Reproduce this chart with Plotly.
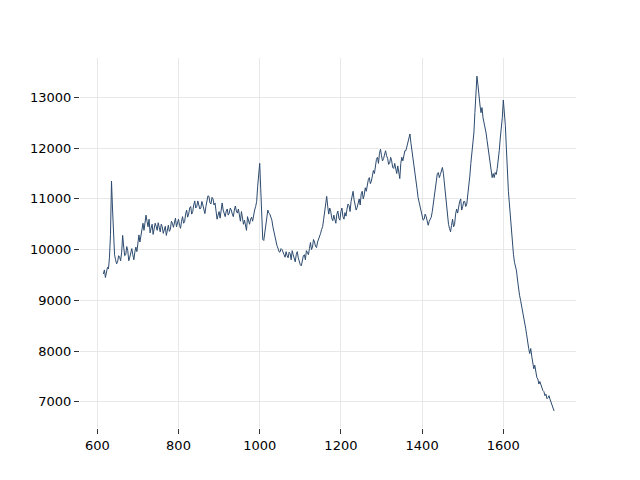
import plotly.graph_objects as go

x_start = 615
x_step = 2.5
intensity = [
    9520, 9600, 9450, 9560, 9650, 9620, 9850, 10300, 11350, 10800,
    10100, 9900, 9800, 9720, 9760, 9880, 9850, 9780, 9950, 10280,
    10050, 9880, 9900, 10060, 9980, 9780, 9850, 9930, 10020, 9900,
    9800, 9950, 10050, 9960, 10200, 10290, 10150, 10300, 10420, 10520,
    10380, 10560, 10680, 10560, 10450, 10600, 10330, 10420, 10500, 10300,
    10380, 10520, 10460, 10380, 10530, 10440, 10350, 10500, 10450, 10320,
    10380, 10460, 10280, 10380, 10480, 10360, 10400, 10560, 10520, 10440,
    10570, 10620, 10450, 10520, 10600, 10480, 10420, 10560, 10650, 10520,
    10550, 10700, 10780, 10640, 10700, 10820, 10850, 10700, 10750, 10880,
    10960, 10820, 10850, 10960, 10900, 10800, 10820, 10950, 10880, 10780,
    10710, 10850, 10950, 11060, 11050, 10920, 10900, 11030, 11000, 10880,
    10920, 10780, 10600, 10680, 10750, 10620, 10850, 10920, 10780, 10700,
    10650, 10760, 10800, 10680, 10720, 10820, 10780, 10700, 10650, 10780,
    10860, 10760, 10720, 10800, 10620, 10560, 10750, 10620, 10500, 10580,
    10420, 10380, 10650, 10560, 10500, 10600, 10640, 10560, 10700, 10780,
    10850, 10950, 11250, 11600, 11700, 11200, 10500, 10200, 10180, 10350,
    10450, 10600, 10780, 10720, 10700, 10640, 10580, 10450, 10350, 10260,
    10200, 10080, 10030, 9960, 9950, 10020, 10000, 9920, 9900, 9850,
    9960, 9880, 9840, 9950, 9920, 9800, 9980, 9900, 9820, 9760,
    9900, 9960, 9840, 9760, 9700, 9680, 9800, 9880, 9900, 9800,
    9980, 9920, 9900, 10020, 10140, 10000, 10050, 10200, 10150, 10060,
    10040, 10150, 10200, 10280, 10320, 10400, 10450, 10600, 10750, 11000,
    11050, 10850, 10700, 10820, 10750, 10620, 10570, 10680, 10600, 10520,
    10700, 10760, 10620, 10580, 10750, 10820, 10650, 10600, 10730, 10660,
    10800, 10900, 10870, 10750, 10950, 11100, 11150, 10980, 10900, 10780,
    10830, 10950, 11000, 10880, 11100, 11150, 11000, 11080, 11220, 11150,
    11300, 11380, 11420, 11300, 11350, 11480, 11560, 11500, 11650, 11780,
    11820, 11700, 11900, 11980, 11850, 11750, 11795, 11900, 11950, 11850,
    11800, 11680, 11700, 11820, 11750, 11620, 11600, 11700, 11560, 11500,
    11650, 11550, 11400, 11700, 11820, 11750, 11880, 11950, 11950, 12050,
    12100, 12250, 12280, 12100, 11950, 11850, 11750, 11600, 11400, 11200,
    11030, 10950, 10850, 10780, 10700, 10580, 10600, 10700, 10650, 10520,
    10480, 10560, 10600, 10640, 10750, 10900, 11100, 11300, 11450, 11500,
    11520, 11420, 11480, 11550, 11620, 11500, 11300, 11050, 10800, 10650,
    10500, 10420, 10350, 10480, 10600, 10450, 10500, 10700, 10800, 10720,
    10850, 10950, 11000, 10780, 10850, 10950, 10950, 10850, 10900, 11050,
    11250, 11450, 11700, 11900, 12050, 12300, 12700, 13100, 13420, 13250,
    12980, 12850, 12700, 12800, 12600, 12500, 12450, 12300, 12150, 12000,
    11800, 11650, 11460, 11420, 11500, 11420, 11520, 11480, 11600, 11750,
    11950, 12200, 12400, 12600, 12950, 12750, 12450, 12000, 11500, 11150,
    10900, 10600, 10300, 10050, 9900, 9750, 9650, 9580, 9400, 9180,
    9100, 9000, 8900, 8820, 8650, 8580, 8450, 8320, 8150, 8050,
    7950, 8050, 7900, 7780, 7650, 7720, 7550, 7480, 7450, 7350,
    7400, 7320, 7300, 7220, 7200, 7120, 7150, 7060, 7080, 7120,
    7050, 6990, 6960, 6900, 6820,
]
wavenumber = [x_start + i * x_step for i in range(len(intensity))]

fig = go.Figure(go.Scatter(
    x=wavenumber, y=intensity, mode="lines",
    line=dict(color="#2c4a6e", width=1), showlegend=False,
))

axis_common = dict(
    showline=False, zeroline=False,
    showgrid=True, gridcolor="#e8e8e8", gridwidth=1,
    ticks="outside", ticklen=5, tickcolor="#333333", tickwidth=1,
    tickfont=dict(family="DejaVu Sans", size=13, color="#000000"),
)
fig.update_layout(
    width=640, height=480,
    margin=dict(l=72, r=72, t=50, b=60),
    plot_bgcolor="white", paper_bgcolor="white",
    xaxis=dict(range=[557.4, 1779], tickvals=[600, 800, 1000, 1200, 1400, 1600], **axis_common),
    yaxis=dict(range=[6483, 13778], tickvals=[7000, 8000, 9000, 10000, 11000, 12000, 13000],
               tickformat="d", **axis_common),
)
fig.write_html("out.html")
